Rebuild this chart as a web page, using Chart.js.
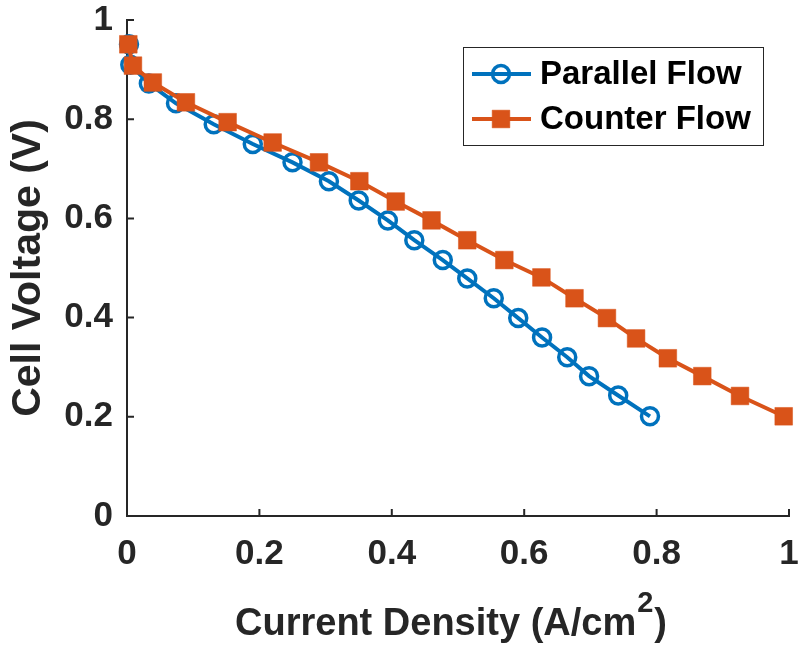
<!DOCTYPE html>
<html>
<head>
<meta charset="utf-8">
<script src="https://cdn.jsdelivr.net/npm/chart.js@4.4.1/dist/chart.umd.min.js"></script>
<style>
    html, body { margin: 0; padding: 0; background: #ffffff; overflow: hidden; }
    #wrap { width: 798px; height: 648px; position: relative; }
</style>
</head>
<body>
<div id="wrap"><canvas id="polarChart"></canvas></div>
<script>
// values
const parallelCurrent = [0.003, 0.005, 0.033, 0.074, 0.131, 0.190, 0.250, 0.305, 0.350, 0.394,
                         0.434, 0.477, 0.514, 0.554, 0.591, 0.627, 0.665, 0.698, 0.742, 0.790];
const parallelVoltage = [0.951, 0.910, 0.872, 0.832, 0.790, 0.750, 0.713, 0.675, 0.636, 0.596,
                         0.556, 0.516, 0.479, 0.439, 0.399, 0.360, 0.320, 0.282, 0.243, 0.201];
const counterCurrent = [0.002, 0.009, 0.039, 0.089, 0.152, 0.220, 0.290, 0.351, 0.406, 0.460,
                        0.514, 0.570, 0.626, 0.676, 0.725, 0.769, 0.817, 0.869, 0.926, 0.992];
const counterVoltage = [0.951, 0.908, 0.874, 0.834, 0.794, 0.753, 0.713, 0.675, 0.634, 0.596,
                        0.556, 0.516, 0.481, 0.439, 0.399, 0.358, 0.318, 0.282, 0.242, 0.201];
const seriesNames = ["Parallel Flow", "Counter Flow"];
const xTicks = [0, 0.2, 0.4, 0.6, 0.8, 1];
const yTicks = [0, 0.2, 0.4, 0.6, 0.8, 1];
const tickLabels = ["0", "0.2", "0.4", "0.6", "0.8", "1"];

const FONT = "'Liberation Sans', Arial, Helvetica, sans-serif";
const INK = "#262626";

function toPoints(xs, ys) {
    return xs.map((x, i) => ({ x: x, y: ys[i] }));
}

// MATLAB style ticks: drawn inward from the axis lines
const innerTicks = {
    id: "innerTicks",
    afterDatasetsDraw(chart) {
        const ctx = chart.ctx;
        const xs = chart.scales.x;
        const ys = chart.scales.y;
        const len = 7;
        ctx.save();
        ctx.strokeStyle = INK;
        ctx.lineWidth = 2;
        ctx.beginPath();
        xTicks.forEach(v => {
            const px = xs.getPixelForValue(v);
            ctx.moveTo(px, ys.bottom);
            ctx.lineTo(px, ys.bottom - len);
        });
        yTicks.forEach(v => {
            const py = ys.getPixelForValue(v);
            ctx.moveTo(xs.left, py);
            ctx.lineTo(xs.left + len, py);
        });
        ctx.stroke();
        ctx.restore();
    }
};

// x title with a raised "2"
const xTitle = {
    id: "xTitle",
    afterDraw(chart) {
        const ctx = chart.ctx;
        const main = "Current Density (A/cm";
        const sup = "2";
        const tail = ")";
        const bigFont = "bold 38px " + FONT;
        const supFont = "bold 29px " + FONT;
        ctx.save();
        ctx.fillStyle = INK;
        ctx.textBaseline = "alphabetic";
        ctx.textAlign = "left";
        ctx.font = bigFont;
        const w1 = ctx.measureText(main).width;
        const w3 = ctx.measureText(tail).width;
        ctx.font = supFont;
        const w2 = ctx.measureText(sup).width;
        const total = w1 + w2 + w3 + 2;
        const cx = 451;
        let x = cx - total / 2;
        const base = 635;
        ctx.font = bigFont;
        ctx.fillText(main, x, base);
        x += w1 + 1;
        ctx.font = supFont;
        ctx.fillText(sup, x, base - 23);
        x += w2 + 1;
        ctx.font = bigFont;
        ctx.fillText(tail, x, base);
        ctx.restore();
    }
};

// boxed legend inside the plot, top right
const boxLegend = {
    id: "boxLegend",
    afterDraw(chart) {
        const ctx = chart.ctx;
        const box = { x: 463, y: 47, w: 300, h: 98 };
        ctx.save();
        ctx.fillStyle = "#ffffff";
        ctx.fillRect(box.x, box.y, box.w, box.h);
        ctx.strokeStyle = INK;
        ctx.lineWidth = 1;
        ctx.strokeRect(box.x + 0.5, box.y + 0.5, box.w, box.h);

        const rows = [74, 119];
        chart.data.datasets.forEach((ds, i) => {
            const y = rows[i];
            ctx.strokeStyle = ds.borderColor;
            ctx.lineWidth = ds.borderWidth;
            ctx.beginPath();
            ctx.moveTo(472, y);
            ctx.lineTo(531, y);
            ctx.stroke();
            ctx.fillStyle = ds.pointBackgroundColor;
            ctx.strokeStyle = ds.pointBorderColor;
            ctx.lineWidth = ds.pointBorderWidth;
            Chart.helpers.drawPoint(ctx, {
                pointStyle: ds.pointStyle,
                radius: ds.pointRadius,
                borderWidth: ds.pointBorderWidth
            }, 501, y);

            ctx.fillStyle = "#000000";
            ctx.font = "bold 33px " + FONT;
            ctx.textAlign = "left";
            ctx.textBaseline = "middle";
            ctx.fillText(seriesNames[i], 540, y + 1);
        });
        ctx.restore();
    }
};

const ctx = document.getElementById("polarChart").getContext("2d");

new Chart(ctx, {
    type: "scatter",
    data: {
        datasets: [
            {
                label: seriesNames[0],
                data: toPoints(parallelCurrent, parallelVoltage),
                showLine: true,
                borderColor: "#0072BD",
                borderWidth: 4,
                pointStyle: "circle",
                pointRadius: 8.5,
                pointBorderWidth: 3.5,
                pointBorderColor: "#0072BD",
                pointBackgroundColor: "rgba(0,0,0,0)",
                clip: false,
                order: 1
            },
            {
                label: seriesNames[1],
                data: toPoints(counterCurrent, counterVoltage),
                showLine: true,
                borderColor: "#D95319",
                borderWidth: 4,
                pointStyle: "rect",
                pointRadius: 12.5,
                pointBorderWidth: 0.5,
                pointBorderColor: "#D95319",
                pointBackgroundColor: "#D95319",
                clip: false,
                order: 0
            }
        ]
    },
    options: {
        responsive: true,
        maintainAspectRatio: false,
        animation: false,
        events: [],
        layout: {
            autoPadding: false,
            padding: { left: 0, top: 20, right: 9, bottom: 0 }
        },
        plugins: {
            legend: { display: false },
            tooltip: { enabled: false }
        },
        scales: {
            x: {
                type: "linear",
                min: 0,
                max: 1,
                afterBuildTicks: scale => {
                    scale.ticks = xTicks.map(v => ({ value: v }));
                },
                afterFit: scale => {
                    scale.height = 132;
                    scale.paddingLeft = 0;
                    scale.paddingRight = 0;
                },
                border: { display: true, color: INK, width: 2 },
                grid: { display: false, drawTicks: false },
                ticks: {
                    color: INK,
                    padding: 17,
                    maxRotation: 0,
                    callback: (v, i) => tickLabels[i],
                    font: { family: FONT, size: 35, weight: "bold" }
                },
                title: { display: false }
            },
            y: {
                type: "linear",
                min: 0,
                max: 1,
                afterBuildTicks: scale => {
                    scale.ticks = yTicks.map(v => ({ value: v }));
                },
                afterFit: scale => {
                    scale.width = 127;
                    scale.paddingTop = 0;
                    scale.paddingBottom = 0;
                },
                border: { display: true, color: INK, width: 2 },
                grid: { display: false, drawTicks: false },
                ticks: {
                    color: INK,
                    padding: 14,
                    callback: (v, i) => tickLabels[i],
                    font: { family: FONT, size: 35, weight: "bold" }
                },
                title: {
                    display: true,
                    text: "Cell Voltage (V)",
                    color: INK,
                    padding: { top: 4, bottom: 0 },
                    font: { family: FONT, size: 41, weight: "bold" }
                }
            }
        }
    },
    plugins: [innerTicks, xTitle, boxLegend]
});
</script>
</body>
</html>
